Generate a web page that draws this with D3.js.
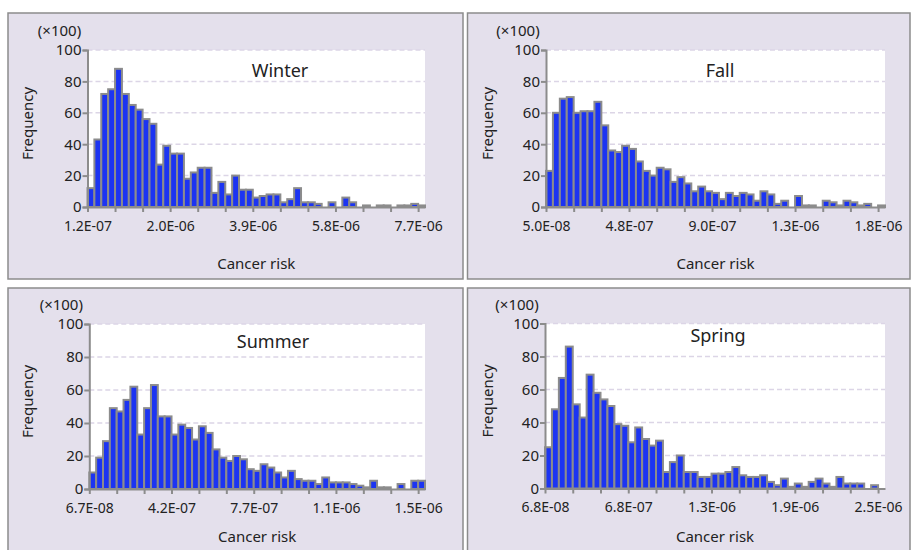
<!DOCTYPE html>
<html>
<head>
<meta charset="utf-8">
<script src="https://cdn.jsdelivr.net/npm/d3@7"></script>
<style>
  body { margin: 0; background: #fff; }
  text { font-family: "Noto Sans", sans-serif; fill: #222; }
  .axis path, .axis line { stroke: #8c8c8c; stroke-width: 2; }
</style>
</head>
<body>
<div id="chart"></div>
<script>
// frequencies (x100) per bin, 49 bins per season
var winter = [12,43,72,75,88,72,65,62,56,53,27,39,34,34,18,22,25,25,9,16,8,20,11,11,6,7,8,8,3,5,12,3,3,2,0,3,0,6,3,0,1,0,1,1,0,1,1,2,1];
var fall = [23,60,69,70,60,61,61,67,52,36,35,39,37,29,23,20,25,24,16,19,15,10,13,10,9,5,9,7,9,8,4,10,8,2,4,0,7,1,1,0,4,3,1,4,3,1,2,0,1];
var summer = [10,19,29,49,47,54,62,33,49,63,44,44,33,39,37,30,38,34,24,19,17,20,18,12,11,15,13,10,7,11,6,5,5,3,7,4,4,4,3,2,1,5,1,1,0,3,0,5,5];
var spring = [25,48,67,86,51,43,69,58,54,50,39,38,28,37,30,26,29,10,16,20,10,10,7,7,9,9,10,13,8,7,7,8,4,2,6,1,3,1,4,6,3,1,7,3,3,3,0,2,0];

var winterLabels = ["1.2E-07", "2.0E-06", "3.9E-06", "5.8E-06", "7.7E-06"];
var fallLabels = ["5.0E-08", "4.8E-07", "9.0E-07", "1.3E-06", "1.8E-06"];
var summerLabels = ["6.7E-08", "4.2E-07", "7.7E-07", "1.1E-06", "1.5E-06"];
var springLabels = ["6.8E-08", "6.8E-07", "1.3E-06", "1.9E-06", "2.5E-06"];

var yTicks = [0, 20, 40, 60, 80, 100];

// layout of the four panels
var panels = [
  { name: "Winter", values: winter, labels: winterLabels, frame: [8, 13, 463, 279], plot: [87.5, 50, 425, 207], title: [280, 77] },
  { name: "Fall",   values: fall,   labels: fallLabels,   frame: [467.5, 13, 910, 279], plot: [546, 50, 885, 207], title: [720, 77] },
  { name: "Summer", values: summer, labels: summerLabels, frame: [8, 288, 463, 552], plot: [89.3, 324, 425, 489], title: [273, 348] },
  { name: "Spring", values: spring, labels: springLabels, frame: [467.5, 288, 910, 552], plot: [545, 323.5, 885, 488.5], title: [718, 342] }
];

var width = 912, height = 550;

var svg = d3.select("#chart").append("svg")
    .attr("width", width)
    .attr("height", height);

panels.forEach(function (p) {
    var f = p.frame, r = p.plot;
    var n = p.values.length;

    var x = d3.scaleLinear().domain([0, n]).range([r[0], r[2]]);
    var y = d3.scaleLinear().domain([0, 100]).range([r[3], r[1]]);

    var g = svg.append("g");

    g.append("rect")
        .attr("x", f[0]).attr("y", f[1])
        .attr("width", f[2] - f[0]).attr("height", f[3] - f[1])
        .attr("fill", "#e4e0ec")
        .attr("stroke", "#8c8c8c")
        .attr("stroke-width", 1.5);

    g.append("rect")
        .attr("x", r[0]).attr("y", r[1])
        .attr("width", r[2] - r[0]).attr("height", r[3] - r[1])
        .attr("fill", "#fff");

    // dashed gridlines
    g.selectAll(".grid")
        .data(yTicks.filter(function (d) { return d > 0; }))
        .enter().append("line")
        .attr("x1", r[0]).attr("x2", r[2])
        .attr("y1", function (d) { return y(d); })
        .attr("y2", function (d) { return y(d); })
        .attr("stroke", "#dcd5e6")
        .attr("stroke-width", 1.5)
        .attr("stroke-dasharray", "5,3");

    // bars
    g.selectAll(".bar")
        .data(p.values)
        .enter().append("rect")
        .attr("x", function (d, i) { return x(i); })
        .attr("width", function (d, i) { return x(i + 1) - x(i); })
        .attr("y", function (d) { return y(d); })
        .attr("height", function (d) { return y(0) - y(d); })
        .attr("fill", "#1c34f2")
        .attr("stroke", "#8c8c8c")
        .attr("stroke-width", 2);

    // axes
    var yAxis = d3.axisLeft(y).tickValues(yTicks).tickSize(5).tickPadding(1);
    g.append("g").attr("class", "axis")
        .attr("transform", "translate(" + r[0] + ",0)")
        .call(yAxis)
        .call(function (s) { s.selectAll("text").style("font-size", "15px").attr("fill", "#222"); });

    var xAxis = d3.axisBottom(x)
        .tickValues(d3.range(0, n, 4))
        .tickSize(5)
        .tickSizeOuter(0)
        .tickPadding(9)
        .tickFormat(function (d) { return d % 12 === 0 ? p.labels[d / 12] : ""; });
    g.append("g").attr("class", "axis")
        .attr("transform", "translate(0," + r[3] + ")")
        .call(xAxis)
        .call(function (s) { s.selectAll("text").style("font-size", "14px").attr("fill", "#222"); });

    g.append("text")
        .attr("x", r[0] - 28).attr("y", r[1] - 14)
        .attr("text-anchor", "middle")
        .style("font-size", "15px")
        .text("(×100)");

    g.append("text")
        .attr("transform", "translate(" + (f[0] + 25) + "," + ((r[1] + r[3]) / 2 - 5) + ")rotate(-90)")
        .attr("text-anchor", "middle")
        .style("font-size", "15px")
        .text("Frequency");

    g.append("text")
        .attr("x", (r[0] + r[2]) / 2).attr("y", f[3] - 10)
        .attr("text-anchor", "middle")
        .style("font-size", "15px")
        .text("Cancer risk");

    g.append("text")
        .attr("x", p.title[0]).attr("y", p.title[1])
        .attr("text-anchor", "middle")
        .style("font-size", "18px")
        .text(p.name);
});
</script>
</body>
</html>
